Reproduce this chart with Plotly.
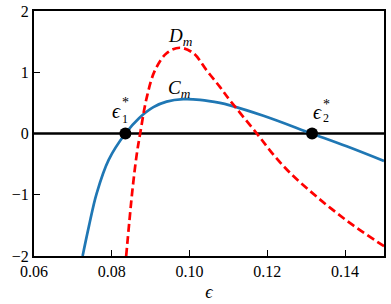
import plotly.graph_objects as go

# Blue curve C_m
eps_C = [0.0725, 0.0741, 0.0761, 0.0792, 0.0835, 0.0870, 0.0907, 0.0941, 0.0984,
         0.1027, 0.1078, 0.1104, 0.1190, 0.1314, 0.1404, 0.1500]
C_m = [-2.0, -1.52, -0.98, -0.43, 0.0, 0.25, 0.43, 0.52, 0.56,
       0.55, 0.50, 0.46, 0.29, 0.0, -0.21, -0.45]

# Red dashed curve D_m
eps_D = [0.0837, 0.0845, 0.0853, 0.0864, 0.0873, 0.0890, 0.0911, 0.0941, 0.0975,
         0.1010, 0.1044, 0.1078, 0.1104, 0.1173, 0.1215, 0.1258, 0.1310, 0.1361,
         0.1421, 0.1500]
D_m = [-2.0, -1.45, -0.93, -0.35, 0.0, 0.59, 1.03, 1.31, 1.40,
       1.31, 1.03, 0.76, 0.54, 0.0, -0.34, -0.64, -0.94, -1.21,
       -1.50, -1.84]

# Roots
eps_star = [0.0835, 0.1315]
root_vals = [0.0, 0.0]

x_range = [0.06, 0.15]
y_range = [-2, 2]
x_ticks = [0.06, 0.08, 0.10, 0.12, 0.14]
x_ticklabels = ["0.06", "0.08", "0.10", "0.12", "0.14"]
y_ticks = [-2, -1, 0, 1, 2]

FONT = "Liberation Serif"

fig = go.Figure()
fig.add_trace(go.Scatter(x=x_range, y=[0, 0], mode="lines",
                         line=dict(color="black", width=2.5), hoverinfo="skip"))
fig.add_trace(go.Scatter(x=eps_C, y=C_m, mode="lines",
                         line=dict(color="#1f77b4", width=2.7, shape="spline", smoothing=1.0)))
fig.add_trace(go.Scatter(x=eps_D, y=D_m, mode="lines",
                         line=dict(color="red", width=2.7, dash="8px,4px", shape="spline", smoothing=1.0)))
fig.add_trace(go.Scatter(x=eps_star, y=root_vals, mode="markers",
                         marker=dict(color="black", size=12)))

ann_font = dict(family=FONT, size=20, color="black")
lab_font = dict(family=FONT, size=19, color="black")
star_font = dict(family=FONT, size=14, color="black")
small_font = dict(family=FONT, size=12, color="black")
annotations = [
    dict(x=0.0813, y=0.37, text="<i>ϵ</i>", font=ann_font),
    dict(x=0.0835, y=0.50, text="*", font=star_font),
    dict(x=0.0834, y=0.24, text="1", font=small_font),
    dict(x=0.1330, y=0.35, text="<i>ϵ</i>", font=ann_font),
    dict(x=0.1352, y=0.48, text="*", font=star_font),
    dict(x=0.1352, y=0.26, text="2", font=small_font),
    dict(x=0.0977, y=1.58, text="<i>D</i><sub><i>m</i></sub>", font=lab_font),
    dict(x=0.0973, y=0.72, text="<i>C</i><sub><i>m</i></sub>", font=lab_font),
]
for a in annotations:
    a.update(xref="x", yref="y", showarrow=False, xanchor="center", yanchor="middle")

fig.update_layout(
    width=391, height=304,
    margin=dict(l=34, r=7, t=11, b=48),
    paper_bgcolor="white", plot_bgcolor="white",
    showlegend=False,
    font=dict(family=FONT, size=16, color="black"),
    annotations=annotations,
    xaxis=dict(range=x_range, tickvals=x_ticks, ticktext=x_ticklabels,
               ticks="inside", ticklen=6, tickwidth=1, tickcolor="black",
               showline=True, linecolor="black", linewidth=2, mirror=True,
               showgrid=False, zeroline=False, automargin=False,
               tickfont=dict(family=FONT, size=16, color="black"),
               title=dict(text="<i>ϵ</i>", font=dict(family=FONT, size=18, color="black"), standoff=6)),
    yaxis=dict(range=y_range, tickvals=y_ticks,
               ticks="inside", ticklen=6, tickwidth=1, tickcolor="black",
               showline=True, linecolor="black", linewidth=2, mirror=True,
               showgrid=False, zeroline=False, automargin=False,
               tickfont=dict(family=FONT, size=16, color="black")),
)

fig.write_html("out.html", config={"displayModeBar": False, "staticPlot": True})

# remove the browser's default page margin so the figure sits at the top-left corner
with open("out.html", "r", encoding="utf-8") as f:
    html = f.read()
html = html.replace("<head>", "<head><style>html,body{margin:0;padding:0;overflow:hidden;}</style>", 1)
with open("out.html", "w", encoding="utf-8") as f:
    f.write(html)
